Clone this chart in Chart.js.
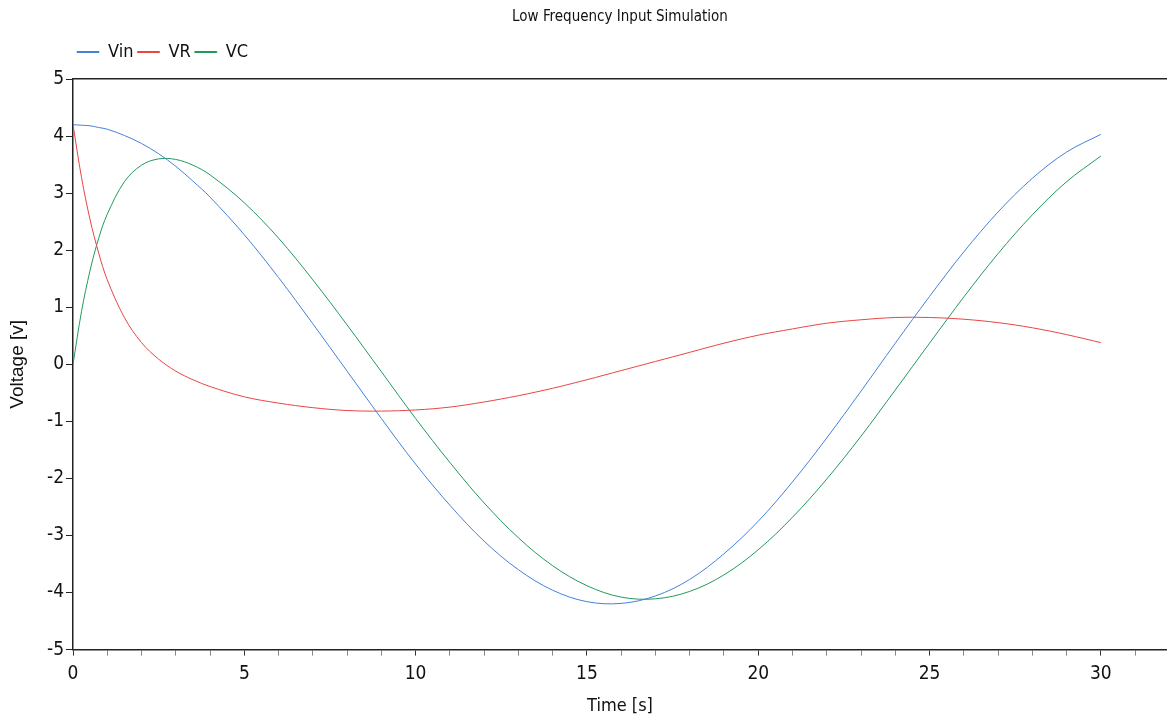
<!DOCTYPE html>
<html lang="en">

<head>
    <meta charset="UTF-8" />
    <title>Low Frequency Input Simulation</title>
    <script src="https://cdn.jsdelivr.net/npm/chart.js"></script>
    <style>
        body {
            margin: 0;
            background: white;
        }

        #box {
            width: 1167px;
            height: 718px;
        }
    </style>
</head>

<body>
    <div id="box"><canvas id="simChart"></canvas></div>

    <script>
        // values (time in s, voltages in V)
        const times = [0, 0.25, 0.5, 0.75, 1, 1.5, 2, 2.5, 3, 3.5, 4, 5, 6, 7, 8, 9, 10, 11, 12, 13, 14, 15,
            16, 17, 18, 19, 20, 21, 22, 23, 24, 25, 26, 27, 28, 29, 30];
        const vin = [4.2, 4.19, 4.18, 4.15, 4.12, 4.01, 3.87, 3.69, 3.47, 3.21, 2.93, 2.27, 1.52, 0.71, -0.12,
            -0.95, -1.75, -2.47, -3.1, -3.6, -3.96, -4.16, -4.19, -4.06, -3.77, -3.32, -2.75, -2.06, -1.29,
            -0.47, 0.37, 1.19, 1.97, 2.67, 3.26, 3.72, 4.03];
        const vr = [4.2, 3.27, 2.53, 1.95, 1.48, 0.82, 0.38, 0.09, -0.12, -0.27, -0.39, -0.57, -0.68, -0.76,
            -0.81, -0.82, -0.8, -0.75, -0.66, -0.55, -0.42, -0.27, -0.11, 0.05, 0.21, 0.37, 0.51, 0.62, 0.72,
            0.78, 0.82, 0.82, 0.79, 0.73, 0.64, 0.52, 0.38];
        const vc = [0, 0.93, 1.65, 2.21, 2.63, 3.2, 3.49, 3.6, 3.59, 3.49, 3.32, 2.83, 2.21, 1.48, 0.69,
            -0.13, -0.95, -1.72, -2.43, -3.04, -3.53, -3.88, -4.08, -4.11, -3.98, -3.69, -3.25, -2.68, -2.01,
            -1.26, -0.45, 0.37, 1.18, 1.94, 2.62, 3.2, 3.65];
        const seriesNames = ["Vin", "VR", "VC"];
        const seriesColors = ["#4482d8", "#e84545", "#23995c"];

        const FONT = "'Liberation Sans Narrow', 'Arial Narrow', 'DejaVu Sans Condensed', Arial, sans-serif";

        function points(ys) {
            return times.map((t, i) => ({ x: t, y: ys[i] }));
        }

        const datasets = [vin, vr, vc].map((ys, i) => ({
            label: seriesNames[i],
            data: points(ys),
            borderColor: seriesColors[i],
            backgroundColor: seriesColors[i],
            borderWidth: 1,
            pointRadius: 0,
            fill: false,
            tension: 0.35
        }));

        new Chart(document.getElementById("simChart"), {
            type: "line",
            data: { datasets: datasets },
            options: {
                responsive: true,
                maintainAspectRatio: false,
                animation: false,
                layout: { padding: 0 },
                plugins: {
                    title: {
                        display: true,
                        text: "Low Frequency Input Simulation",
                        fullSize: false,
                        color: "#111",
                        font: { family: FONT, size: 15, weight: "normal" },
                        padding: { top: 8, bottom: 13 }
                    },
                    legend: {
                        fullSize: false,
                        align: "start",
                        labels: {
                            color: "#111",
                            font: { family: FONT, size: 18 },
                            boxWidth: 22,
                            boxHeight: 1,
                            padding: 4
                        }
                    },
                    tooltip: { enabled: false }
                },
                scales: {
                    x: {
                        type: "linear",
                        min: 0,
                        max: 31.93,
                        border: { display: true, color: "#222", width: 1.5 },
                        grid: {
                            drawOnChartArea: false,
                            tickLength: 6,
                            color: c => (c.tick && c.tick.value % 5 === 0 ? "#333" : "#888")
                        },
                        ticks: {
                            stepSize: 1,
                            includeBounds: false,
                            maxRotation: 0,
                            autoSkip: false,
                            padding: 7,
                            color: "#111",
                            font: { family: FONT, size: 19 },
                            callback: v => (v % 5 === 0 ? v : "")
                        },
                        title: {
                            display: true,
                            text: "Time [s]",
                            color: "#111",
                            font: { family: FONT, size: 18 },
                            padding: { top: 3, bottom: 1 }
                        }
                    },
                    xTop: {
                        type: "linear",
                        position: "top",
                        min: 0,
                        max: 31.93,
                        border: { display: true, color: "#222", width: 1.5 },
                        grid: { display: false },
                        ticks: { display: false },
                        afterFit: s => { s.height = 8; }
                    },
                    y: {
                        min: -5,
                        max: 5,
                        border: { display: true, color: "#222", width: 1.5 },
                        grid: { drawOnChartArea: false, tickLength: 7, color: "#222" },
                        ticks: {
                            stepSize: 1,
                            color: "#111",
                            padding: 2,
                            font: { family: FONT, size: 19 }
                        },
                        title: {
                            display: true,
                            text: "Voltage [v]",
                            color: "#111",
                            font: { family: "Arial, 'Liberation Sans', sans-serif", size: 19 },
                            padding: { top: 6, bottom: 6 }
                        },
                        afterFit: s => { s.width = 73; }
                    }
                }
            }
        });
    </script>
</body>

</html>
